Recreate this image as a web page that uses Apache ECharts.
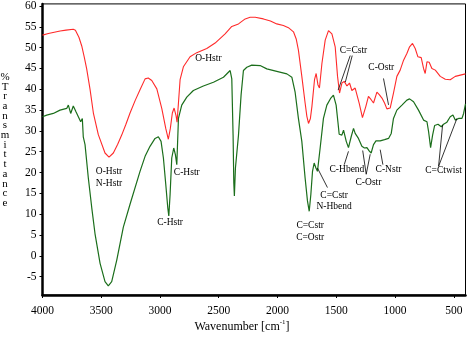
<!DOCTYPE html>
<html><head><meta charset="utf-8">
<script src="https://cdn.jsdelivr.net/npm/echarts@6/dist/echarts.min.js"></script>
<style>html,body{margin:0;padding:0;background:#fff}#c{width:468px;height:347px}</style>
</head><body><div id="c"></div>
<script>
const redWavenumber = [4000,3950,3900,3850,3800,3738,3720,3709,3690,3666,3645,3624,3595,3567,3525,3468,3434,3397,3360,3326,3290,3255,3210,3170,3127,3100,3070,3027,2985,2951,2929,2912,2895,2880,2863,2855,2843,2829,2801,2744,2687,2602,2531,2446,2389,2332,2275,2233,2190,2120,2060,2006,1950,1907,1864,1840,1822,1793,1765,1750,1736,1720,1707,1685,1671,1656,1643,1622,1594,1566,1537,1509,1489,1472,1452,1432,1409,1387,1367,1339,1305,1277,1248,1226,1203,1183,1154,1134,1111,1089,1069,1041,1013,984,956,927,899,876,851,828,805,777,757,743,728,709,686,657,615,572,530,487,444,400];
const redTransmittance = [53.0,53.4,53.7,54.0,54.2,54.4,54.2,53.75,52.5,50.4,47.8,44.9,39.9,34.3,29.1,24.7,23.7,24.7,26.8,29.0,31.6,34.3,37.4,39.9,42.5,42.7,42.1,40.1,35.4,30.6,28.0,30.6,34.3,35.5,33.6,32.1,36.7,42.3,45.4,47.8,48.8,49.8,51.1,53.3,55.1,55.7,56.9,57.3,57.3,56.9,56.4,55.7,55.3,54.8,53.8,52.0,49.4,43.1,36.7,33.5,31.8,33.0,35.9,42.3,43.8,41.1,40.3,46.2,51.8,54.1,53.3,50.2,43.1,39.1,41.5,41.9,40.8,41.5,39.7,40.3,36.7,33.2,35.9,38.3,37.5,36.7,39.3,38.7,37.9,36.7,35.3,35.5,39.1,43.1,44.6,47.0,48.6,50.2,51.0,49.8,47.8,47.6,45.0,43.8,46.6,46.5,45.0,44.6,43.1,42.4,42.3,43.1,43.4,43.7];
const greenWavenumber = [4000,3964,3908,3851,3794,3780,3760,3738,3715,3695,3675,3661,3653,3638,3610,3581,3553,3510,3468,3440,3411,3368,3312,3255,3170,3127,3085,3042,3014,2991,2971,2951,2934,2925,2914,2900,2883,2869,2857,2843,2815,2772,2716,2631,2545,2460,2403,2389,2378,2372,2367,2358,2346,2332,2310,2290,2261,2219,2148,2091,2006,1920,1878,1850,1822,1793,1765,1745,1730,1716,1702,1688,1673,1660,1637,1609,1580,1546,1524,1501,1486,1475,1460,1452,1438,1415,1396,1373,1353,1339,1324,1311,1282,1260,1239,1220,1203,1183,1162,1145,1126,1089,1055,1032,1013,984,941,899,876,842,800,757,728,714,697,680,663,634,606,587,558,530,507,487,459,430,416,400];
const greenTransmittance = [33.4,33.8,34.2,35.0,35.4,36.2,34.2,36.0,34.6,33.4,32.2,33.0,28.6,26.7,18.7,11.6,5.3,-1.8,-6.2,-7.2,-6.2,-1.0,6.9,12.4,20.3,23.9,26.3,28.2,28.6,27.5,23.5,17.2,11.6,9.6,14.8,23.5,25.9,24.3,21.9,33.0,36.2,38.1,39.7,40.8,41.7,42.9,44.5,42.5,29.0,17.6,14.4,21.1,21.5,29.0,38.6,44.5,45.3,45.8,45.7,44.9,44.3,43.7,42.9,39.3,33.0,27.5,18.7,13.2,10.7,14.8,20.3,22.3,21.1,20.3,25.9,33.0,36.2,37.9,38.6,36.2,32.2,29.2,29.4,29.0,30.2,27.5,26.0,28.6,30.6,29.4,29.4,28.2,26.3,25.9,26.0,25.2,24.7,26.7,27.6,27.5,27.6,27.9,28.2,29.4,33.0,35.0,36.2,37.4,37.7,37.0,35.0,32.6,32.2,29.8,26.0,29.0,31.3,31.6,31.0,31.6,32.1,33.4,33.8,32.6,33.0,33.0,34.2,36.5];
const xTickValues = [4000,3500,3000,2500,2000,1500,1000,500];
const yTickValues = [-5,0,5,10,15,20,25,30,35,40,45,50,55,60];
const annotationTexts = ['O-Hstr\nN-Hstr','C-Hstr','C-Hstr','O-Hstr','C=Cstr\nC=Ostr','C=Cstr\nN-Hbend','C-Hbend','C-Ostr','C-Nstr','C=Ctwist','C=Cstr','C-Ostr'];
const annotationWave = [3434,2772,2914,2588,1722,1518,1409,1226,1055,587,1353,1117];
const annotationT = [18.9,19.9,8.05,47.4,5.8,13.2,20.7,17.55,20.7,20.5,49.3,45.3];
const leaderFrom = [[1575,16.4],[1432,21.9],[1245,19.6],[1245,19.6],[1103,21.9],[629,21.5],[629,21.5],[1381,48.1],[1364,48.1],[1098,42.6]];
const leaderTo = [[1660,21.1],[1396,25.1],[1275,25.3],[1211,24.4],[1126,25.5],[595,31.4],[473,33.0],[1484,39.8],[1423,41.7],[1055,36.25]];

const zip = (a,b) => a.map((v,i)=>[v,b[i]]);
const serif = 'Liberation Serif';
const chart = echarts.init(document.getElementById('c'), null, {renderer:'canvas'});
chart.setOption({
  animation:false,
  backgroundColor:'#fff',
  grid:{left:42.5,right:2.5,top:1,bottom:52,show:true,borderColor:'#000',borderWidth:1,containLabel:false},
  xAxis:{type:'value',inverse:true,min:400,max:4000,
    axisLine:{show:true,onZero:false,lineStyle:{color:'#000',width:2.5}},
    axisTick:{show:true,length:3,customValues:xTickValues,lineStyle:{color:'#000',width:1}},
    axisLabel:{customValues:xTickValues,formatter:v=>String(v),color:'#000',fontFamily:serif,fontSize:11.5,margin:10},
    splitLine:{show:false}},
  yAxis:{type:'value',min:-9.4,max:60.5,
    axisLine:{show:true,onZero:false,lineStyle:{color:'#000',width:2.5}},
    axisTick:{show:true,length:3,customValues:yTickValues,lineStyle:{color:'#000',width:1}},
    axisLabel:{customValues:yTickValues,formatter:v=>String(v),color:'#000',fontFamily:serif,fontSize:11.5,margin:6},
    splitLine:{show:false}},
  series:[
    {type:'line',data:zip(redWavenumber,redTransmittance),showSymbol:false,lineStyle:{color:'#ff2a2a',width:1.1},z:3},
    {type:'line',data:zip(greenWavenumber,greenTransmittance),showSymbol:false,lineStyle:{color:'#1b6e1b',width:1.2},z:4}
  ]
});
const toPx = p => chart.convertToPixel({gridIndex:0}, p);
const g = [];
annotationTexts.forEach((t,i)=>{
  const p = toPx([annotationWave[i], annotationT[i]]);
  g.push({type:'text',x:p[0],y:p[1],z:10,style:{text:t,align:'center',verticalAlign:'middle',fontFamily:serif,fontSize:9.5,fill:'#000',lineHeight:11.7}});
});
leaderFrom.forEach((f,i)=>{
  const a = toPx(f), b = toPx(leaderTo[i]);
  g.push({type:'line',z:10,shape:{x1:a[0],y1:a[1],x2:b[0],y2:b[1]},style:{stroke:'#000',lineWidth:0.8}});
});
g.push({type:'text',x:5,y:140,z:10,style:{text:'%\nT\nr\na\nn\ns\nm\ni\nt\nt\na\nn\nc\ne',align:'center',verticalAlign:'middle',fontFamily:serif,fontSize:11,fill:'#000',lineHeight:9.7}});
g.push({type:'text',x:242,y:326,z:10,style:{text:'{a|Wavenumber [cm}{s|-1}{a|]}',align:'center',verticalAlign:'middle',
  rich:{a:{fontFamily:serif,fontSize:12,fill:'#000',verticalAlign:'bottom',lineHeight:14},s:{fontFamily:serif,fontSize:7,fill:'#000',verticalAlign:'top',lineHeight:14}}}});
chart.setOption({graphic:g});
</script></body></html>
